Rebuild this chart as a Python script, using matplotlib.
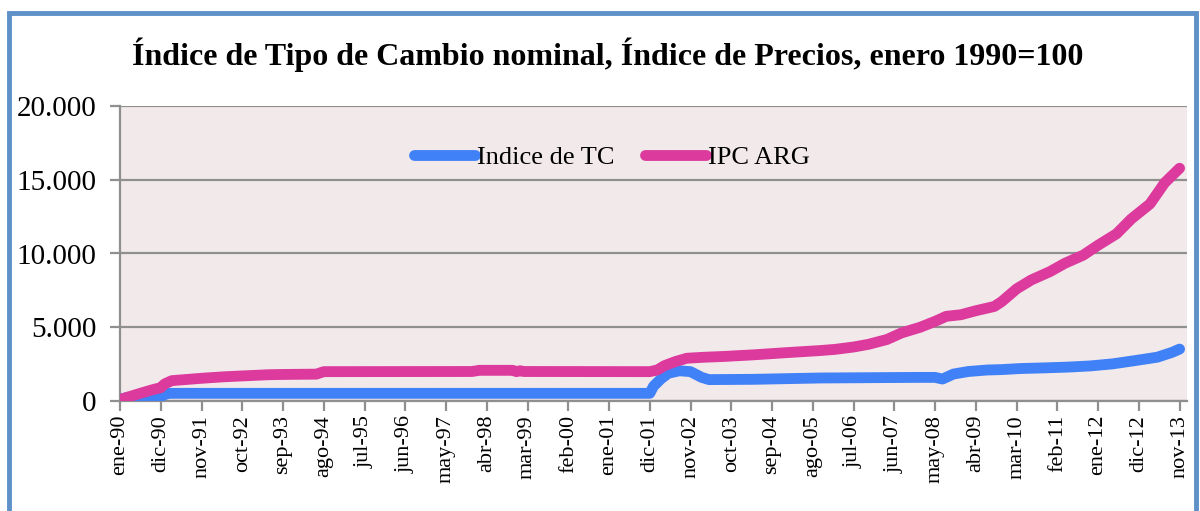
import matplotlib
matplotlib.use('Agg')
import matplotlib.pyplot as plt
from matplotlib.patches import Rectangle
from matplotlib.ticker import FuncFormatter

# meses contados desde ene-90 (0) hasta nov-13 (286)
meses_tc = [0, 2, 4, 11, 12, 13, 14, 143, 144, 146, 148, 151, 154, 157, 159,
            171, 189, 215, 220, 222, 225, 229, 234, 238, 243, 250, 256, 262,
            268, 274, 280, 284, 286]
indice_tc = [100, 250, 290, 300, 420, 520, 520, 520, 1000, 1500, 1880, 2050,
             1990, 1600, 1450, 1470, 1560, 1600, 1600, 1490, 1830, 2000, 2100,
             2130, 2200, 2250, 2300, 2380, 2520, 2740, 2970, 3300, 3520]

meses_ipc = [0, 3, 6, 9, 11, 12, 14, 18, 22, 28, 33, 40, 44, 48, 53, 55, 95,
             97, 106, 107, 108, 109, 143, 145, 147, 150, 153, 158, 163, 171,
             180, 189, 193, 198, 202, 207, 211, 216, 220, 223, 227, 231, 236,
             238, 242, 246, 251, 255, 260, 264, 269, 273, 278, 282, 286]
ipc_arg = [100, 330, 560, 780, 900, 1150, 1380, 1460, 1540, 1640, 1700, 1780,
           1800, 1810, 1820, 1990, 2000, 2080, 2080, 1990, 2050, 2000, 1990,
           2100, 2400, 2680, 2900, 2970, 3020, 3130, 3280, 3420, 3500, 3660,
           3840, 4170, 4620, 5000, 5400, 5740, 5850, 6120, 6410, 6740, 7600,
           8210, 8770, 9330, 9890, 10560, 11340, 12350, 13360, 14800, 15780]

etiquetas = ['ene-90', 'dic-90', 'nov-91', 'oct-92', 'sep-93', 'ago-94',
             'jul-95', 'jun-96', 'may-97', 'abr-98', 'mar-99', 'feb-00',
             'ene-01', 'dic-01', 'nov-02', 'oct-03', 'sep-04', 'ago-05',
             'jul-06', 'jun-07', 'may-08', 'abr-09', 'mar-10', 'feb-11',
             'ene-12', 'dic-12', 'nov-13']
pos_etiquetas = list(range(0, 287, 11))

azul = '#4181f7'
rosa = '#dc3a9c'
gris = '#8f8f8f'

plt.rcParams['font.family'] = ['Liberation Serif', 'DejaVu Serif']

fig = plt.figure(figsize=(12, 5.11), dpi=100)
ax = fig.add_axes([120 / 1200, 1 - 401 / 511, 1067 / 1200, 295 / 511])
ax.set_facecolor('#f2e9ea')

ax.plot(meses_tc, indice_tc, color=azul, lw=7.8, solid_capstyle='round',
        solid_joinstyle='round', label='Indice de TC', zorder=3)
ax.plot(meses_ipc, ipc_arg, color=rosa, lw=7.8, solid_capstyle='round',
        solid_joinstyle='round', label='IPC ARG', zorder=4)

ax.set_xlim(0, 288)
ax.set_ylim(0, 20000)
ax.set_yticks([0, 5000, 10000, 15000, 20000])
ax.yaxis.set_major_formatter(FuncFormatter(lambda v, p: f'{int(v):,}'.replace(',', '.')))
ax.set_xticks(pos_etiquetas)
ax.set_xticklabels(etiquetas, rotation=90)

ax.grid(axis='y', color=gris, lw=1.6, zorder=1)
for s in ['top', 'right']:
    ax.spines[s].set_visible(False)
for s in ['left', 'bottom']:
    ax.spines[s].set_color(gris)
    ax.spines[s].set_linewidth(1.6)
ax.tick_params(axis='y', length=7, width=1.6, color=gris, labelsize=21, pad=10)
ax.tick_params(axis='x', length=7, width=1.6, color=gris, labelsize=16, pad=3)

leg = ax.legend(loc='center', bbox_to_anchor=(0.461, 0.827), ncol=2,
                frameon=False, fontsize=19, handlelength=2.3,
                handletextpad=0.08, columnspacing=1.15)

fig.text(608 / 1200, 1 - 55 / 511,
         'Índice de Tipo de Cambio nominal, Índice de Precios, enero 1990=100',
         ha='center', va='center', fontsize=23, fontweight='bold')

marco = Rectangle((9 / 1200, -0.1), 1187 / 1200, 1 - 13 / 511 + 0.1,
                  transform=fig.transFigure, fill=False, edgecolor='#5d91c8',
                  lw=3.5, zorder=10)
fig.patches.append(marco)

fig.savefig('out.png', dpi=100)
